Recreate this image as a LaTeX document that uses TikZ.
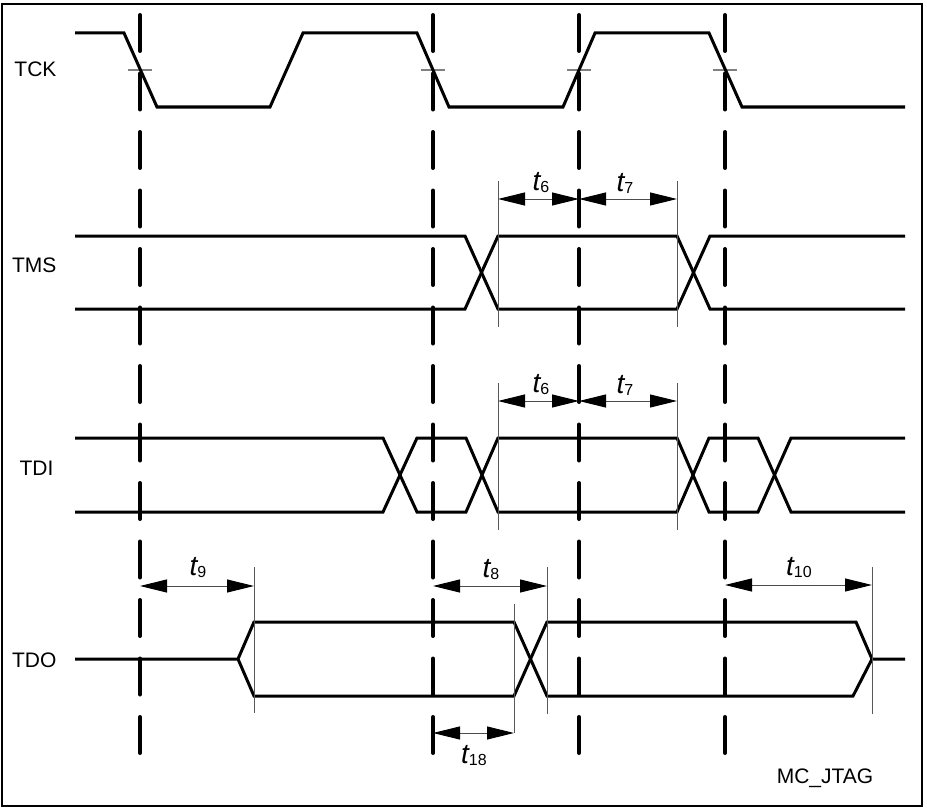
\documentclass[tikz,border=0pt]{standalone}
\usepackage{fontspec}
\setmainfont{Liberation Sans}
\usetikzlibrary{arrows.meta}
\newcommand{\tlab}[1]{{\fontsize{28}{28}\selectfont\itshape t}\raisebox{-2pt}{\fontsize{16}{16}\selectfont #1}}
\begin{document}
\begin{tikzpicture}[x=1pt,y=-1pt,
  sig/.style={line width=3pt,line join=miter},
  clk/.style={line width=4pt,line cap=round,dash pattern=on 36pt off 22.5pt},
  ext/.style={line width=1pt,gray!70!black},
  cross/.style={line width=1.5pt,gray},
  dim/.style={line width=1pt,gray!60!black,{Triangle[length=27pt,width=13pt,black]}-{Triangle[length=27pt,width=13pt,black]}},
  sname/.style={font=\fontsize{21}{21}\selectfont,anchor=east},
  tl/.style={inner sep=0pt}]
\useasboundingbox (0,0) rectangle (927,808);
\draw[line width=1.5pt] (2,4) rectangle (922,806);

% signal names
\node[sname] (tck) at (60,69) {TCK};
\node[sname] (tms) at (60,265) {TMS};
\node[sname] (tdi) at (57,468) {TDI};
\node[sname] (tdo) at (60,660) {TDO};
\node[font=\fontsize{21}{21}\selectfont] (mc) at (825,778) {MC\_JTAG};

% clock reference lines
\foreach \n/\x in {a/140,b/433,c/579,d/725}{
  \coordinate (\n top) at (\x,15);
  \coordinate (\n bot) at (\x,753);
  \draw[clk] (\n top) -- (\n bot);
  \draw[cross] (\x-12,70) -- (\x+12,70);
}

% TCK
\draw[sig] (75,33)--(124,33)--(157,107)--(270,107)--(303,33)--(417,33)--(449,107)--(563,107)--(595,33)--(709,33)--(742,107)--(905,107);

% TMS
\draw[sig] (75,236)--(465,236)--(498,309)--(677,309)--(710,236)--(905,236);
\draw[sig] (75,309)--(465,309)--(498,236)--(677,236)--(710,309)--(905,309);

% TDI
\draw[sig] (75,438)--(383,438)--(417,512)--(466,512)--(498,438)--(677,438)--(709,512)--(758,512)--(791,438)--(905,438);
\draw[sig] (75,512)--(383,512)--(417,438)--(466,438)--(498,512)--(677,512)--(709,438)--(758,438)--(791,512)--(905,512);

% TDO
\draw[sig] (75,659)--(238,659)--(254,622)--(514,622)--(547,696)--(853,696)--(872,659)--(905,659);
\draw[sig] (238,659)--(254,696)--(514,696)--(547,622)--(856,622)--(872,659);

% extension lines
\draw[ext] (498,181)--(498,327);
\draw[ext] (677,181)--(677,327);
\draw[ext] (498,383)--(498,530);
\draw[ext] (677,383)--(677,530);
\draw[ext] (254,567)--(254,713);
\draw[ext] (514,604)--(514,733);
\draw[ext] (547,567)--(547,714);
\draw[ext] (872,567)--(872,714);

% dimension arrows
\coordinate (m1a) at (498,199); \coordinate (m1b) at (579,199); \coordinate (m1c) at (677,199);
\coordinate (d1a) at (498,401); \coordinate (d1b) at (579,401); \coordinate (d1c) at (677,401);
\draw[dim] (m1a) -- (m1b);
\draw[dim] (m1b) -- (m1c);
\draw[dim] (d1a) -- (d1b);
\draw[dim] (d1b) -- (d1c);
\coordinate (o9a) at (140,586); \coordinate (o9b) at (254,586);
\coordinate (o8a) at (433,586); \coordinate (o8b) at (547,586);
\coordinate (o10a) at (725,585); \coordinate (o10b) at (872,585);
\coordinate (o18a) at (433,733); \coordinate (o18b) at (514,733);
\draw[dim] (o9a) -- (o9b);
\draw[dim] (o8a) -- (o8b);
\draw[dim] (o10a) -- (o10b);
\draw[dim] (o18a) -- (o18b);

% labels
\node[tl] (l6a) at (541,183) {\tlab{6}};
\node[tl] (l7a) at (625,183) {\tlab{7}};
\node[tl] (l6b) at (541,385) {\tlab{6}};
\node[tl] (l7b) at (625,385) {\tlab{7}};
\node[tl] (l9) at (198,568) {\tlab{9}};
\node[tl] (l8) at (491,570) {\tlab{8}};
\node[tl] (l10) at (799,568) {\tlab{10}};
\node[tl] (l18) at (474,756) {\tlab{18}};
\end{tikzpicture}
\end{document}
